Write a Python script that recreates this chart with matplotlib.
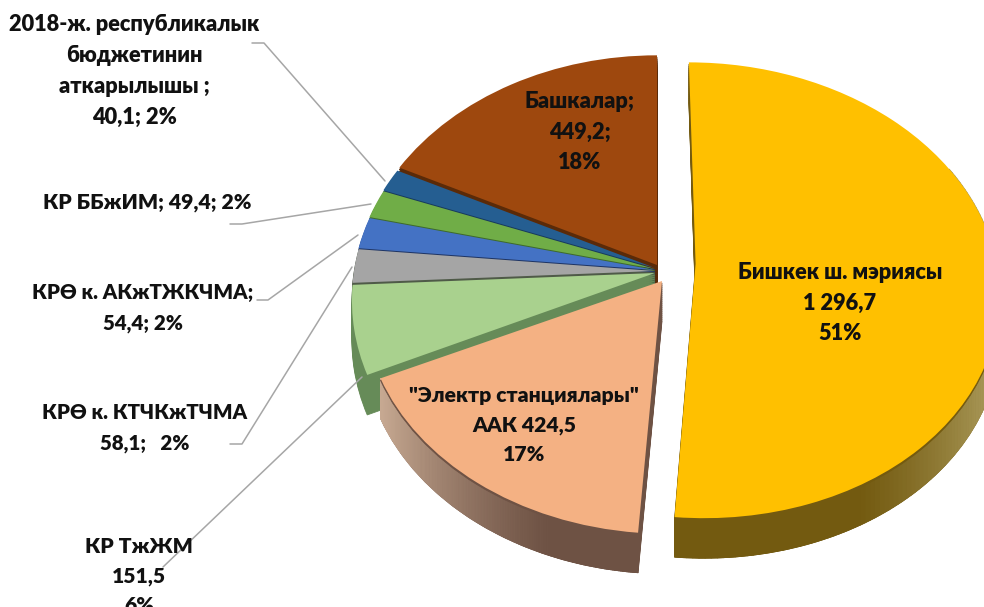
import numpy as np
import matplotlib
matplotlib.use("Agg")
import matplotlib.pyplot as plt
from matplotlib.transforms import Transform
from matplotlib.collections import PolyCollection
from matplotlib.colors import to_rgb

values = [1296.7, 424.5, 151.5, 58.1, 54.4, 49.4, 40.1, 449.2]
explode = [0.085, 0, 0, 0, 0, 0, 0, 0]
top_colors = ["#FFC000", "#F4B183", "#A9D18E", "#A5A5A5", "#4472C4", "#70AD47", "#255E91", "#9E480E"]
wall_colors = ["#735A10", "#6E5244", "#668B58", "#4F5A48", "#1F3564", "#3E6A2C", "#173A5C", "#5A2A08"]
nudges = [(15, -5), (7, 13), (0, 5), (0, 3), (0, 2), (0, 1), (0, 0), (2, -3)]
scales = [(1.0, 0.96), (0.985, 0.955), (1, 1), (1, 1), (1, 1), (1, 1), (1, 1), (1, 1)]
shears = [0.02, 0.02, 0, 0, 0, 0, 0, 0]
labels = [
    ("Бишкек ш. мэриясы\n1 296,7\n51%", 840, 303, 15.7),
    ("\"Электр станциялары\"\nААК 424,5\n17%", 524, 425, 15.2),
    ("Башкалар;\n449,2;\n18%", 580, 132, 15.7),
    ("2018-ж. республикалык\nбюджетинин\nаткарылышы ;\n40,1; 2%", 134, 71, 15.7),
    ("КР ББжИМ; 49,4; 2%", 147, 203, 15.2),
    ("КРӨ к. АКжТЖКЧМА;\n54,4; 2%", 143, 308, 14.8),
    ("КРӨ к. КТЧКжТЧМА\n58,1;   2%", 145, 428, 14.8),
    ("КР ТжЖМ\n151,5\n6%", 139, 576, 15.2),
]
leaders = [
    ([252, 264, 385], [43, 43, 181]),
    ([230, 242, 371], [224, 224, 204]),
    ([257, 268, 358], [300, 300, 235]),
    ([230, 242, 352], [444, 444, 267]),
    ([163, 362], [567, 377]),
]

CX, CY, RX, RY, K, DEPTH = 655.0, 268.0, 301.0, 234.0, 0.116, 40


class Tilt(Transform):
    input_dims = output_dims = 2
    is_separable = False
    has_inverse = False

    def __init__(self, dx=0.0, dy=0.0, sx=1.0, sy=1.0, shear=0.0):
        super().__init__()
        self.dx, self.dy, self.sx, self.sy, self.shear = dx, dy, sx, sy, shear

    def transform_non_affine(self, xy):
        xy = np.asarray(xy, float)
        w = 1 + K * xy[:, 1]
        down = -self.sy * RY * xy[:, 1] / w
        return np.column_stack([CX + self.dx + self.sx * RX * xy[:, 0] / w + self.shear * down,
                                CY + self.dy + down])


plt.rcParams["font.family"] = ["Lato", "Open Sans", "DejaVu Sans"]
fig = plt.figure(figsize=(9.84, 6.07), dpi=100)
ax = fig.add_axes([0, 0, 1, 1])

# side walls, far layers first, then the top face of each slice
for layer in list(range(DEPTH, 0, -2)) + [0]:
    wedges, _ = ax.pie(values, explode=explode, startangle=90, counterclock=False,
                       colors=wall_colors if layer else top_colors, radius=1,
                       wedgeprops=dict(linewidth=0.6 if layer else 0))
    for i, wd in enumerate(wedges):
        ndx, ndy = nudges[i]
        sx, sy = scales[i]
        wd.set_transform(Tilt(ndx, ndy + layer, sx, sy, shears[i]) + ax.transData)
        order = 8 if i == 0 else (8 - i)
        wd.set_zorder(order + (DEPTH - layer) / (DEPTH + 2))
        if layer:
            wd.set_edgecolor(wall_colors[i])
        else:
            top_wedges = wedges

# shaded outer walls of the two near slices
for idx, light in [(0, "#B5A668"), (1, "#D9BBA2")]:
    wd = top_wedges[idx]
    ndx, ndy = nudges[idx]
    sx, sy = scales[idx]
    th = np.radians(np.linspace(wd.theta1, wd.theta2, 181))
    th = th[np.sin(th) < 0.45]
    cx0, cy0 = wd.center
    tr = Tilt(ndx, ndy, sx, sy, shears[idx]).transform_non_affine
    a = tr(np.column_stack([cx0 + np.cos(th), cy0 + np.sin(th)]))
    quads, cols = [], []
    for j in range(len(th) - 1):
        quads.append([a[j], a[j + 1], a[j + 1] + [0, DEPTH], a[j] + [0, DEPTH]])
        if idx == 0:
            g = np.clip((np.cos(th[j]) - 0.45) / 0.55, 0, 1) ** 1.2
        else:
            g = np.clip((-np.cos(th[j]) - 0.35) / 0.65, 0, 1) ** 1.2
        c0, c1 = np.array(to_rgb(wall_colors[idx])), np.array(to_rgb(light))
        cols.append(tuple(c0 * (1 - g) + c1 * g))
    z = 8 if idx == 0 else 7
    ax.add_collection(PolyCollection(quads, facecolors=cols, edgecolors=cols, linewidths=0.6,
                                     zorder=z + 0.9))
    wd.set_zorder(z + 0.95)

ax.set_aspect("auto")
ax.set_xlim(0, 984)
ax.set_ylim(607, 0)
ax.axis("off")

for xs, ys in leaders:
    ax.plot(xs, ys, color="#A6A6A6", lw=1.1, zorder=12, solid_capstyle="round")

for text, x, y, size in labels:
    ax.text(x, y, text, ha="center", va="center", ma="center", fontsize=size, fontweight="heavy",
            color="#111111", linespacing=1.58 * 15.7 / size, zorder=14)

fig.savefig("out.png", dpi=100)
